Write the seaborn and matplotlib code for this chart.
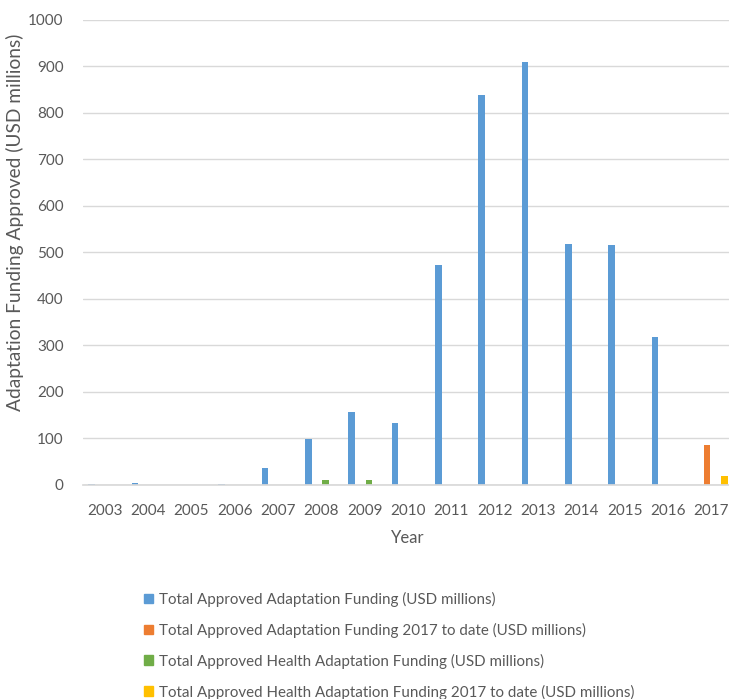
"""Adaptation funding approved per year, grouped bars."""

import matplotlib.pyplot as plt
import matplotlib.patches as mpatches
import pandas as pd
import seaborn as sns

years = [str(y) for y in range(2003, 2018)]
series = [
    "Total Approved Adaptation Funding (USD millions)",
    "Total Approved Adaptation Funding 2017 to date (USD millions)",
    "Total Approved Health Adaptation Funding (USD millions)",
    "Total Approved Health Adaptation Funding 2017 to date (USD millions)",
]
total_funding = [3, 5, 0, 3, 37, 99, 156, 133, 473, 838, 908, 517, 515, 318, 0]
total_2017 = [0, 0, 0, 0, 0, 0, 0, 0, 0, 0, 0, 0, 0, 0, 87]
health_funding = [0, 0, 0, 0, 0, 10, 10, 0, 0, 0, 0, 0, 0, 0, 0]
health_2017 = [0, 0, 0, 0, 0, 0, 0, 0, 0, 0, 0, 0, 0, 0, 19]
colors = ["#5B9BD5", "#ED7D31", "#70AD47", "#FFC000"]

sns.set_theme(style="white")
plt.rcParams["font.family"] = ["Lato", "DejaVu Sans"]
text_color = "#595959"
grid_color = "#D9D9D9"

rows = []
for name, vals in zip(series, [total_funding, total_2017, health_funding, health_2017]):
    for y, v in zip(years, vals):
        rows.append({"Year": y, "Series": name, "Value": v})
df = pd.DataFrame(rows)

fig = plt.figure(figsize=(7.29, 6.99), dpi=100)
ax = fig.add_axes([83 / 729, 1 - 485 / 699, 650 / 729, 465.5 / 699])
sns.barplot(
    data=df, x="Year", y="Value", hue="Series", hue_order=series,
    palette=colors, width=0.8, ax=ax, legend=False, saturation=1,
)

# Excel style thin bars
for p in ax.patches:
    c = p.get_x() + p.get_width() / 2
    p.set_width(0.15)
    p.set_x(c - 0.075)
    p.set_edgecolor("none")

ax.set_xlim(-0.5, len(years) - 0.5)
ax.set_ylim(0, 1000)
ax.set_yticks(range(0, 1001, 100))
ax.grid(axis="y", color=grid_color, linewidth=1)
ax.set_axisbelow(True)
for side in ["top", "right", "left"]:
    ax.spines[side].set_visible(False)
ax.spines["bottom"].set_color(grid_color)
ax.tick_params(axis="both", length=0, labelsize=11, labelcolor=text_color)
ax.tick_params(axis="y", pad=14)
ax.tick_params(axis="x", pad=14)

ax.set_xlabel("Year", fontsize=12, color=text_color, labelpad=8)
ax.set_ylabel("Adaptation Funding Approved (USD millions)", fontsize=13.8, color=text_color)
ax.yaxis.set_label_coords(-0.09, 0.565)

handles = [mpatches.Patch(color=c) for c in colors]
fig.legend(
    handles, series, loc="upper left", bbox_to_anchor=(130 / 729, 1 - 578 / 699),
    frameon=False, fontsize=10.9, labelcolor=text_color, handlelength=0.6,
    handleheight=0.6, handletextpad=0.4, labelspacing=1.05,
)

fig.savefig("out.png", dpi=100)
plt.close(fig)
